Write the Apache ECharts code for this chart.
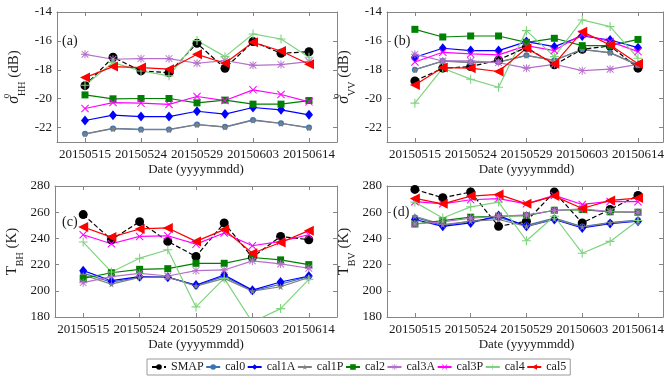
<!DOCTYPE html>
<html>
<head>
<meta charset="utf-8">
<script src="https://cdn.jsdelivr.net/npm/echarts@6/dist/echarts.min.js"></script>
<style>
  html, body { margin: 0; padding: 0; background: #fff; }
  #chart { width: 667px; height: 380px; }
</style>
</head>
<body>
<div id="chart"></div>
<script>
// Observation dates shown on the x axis (every other acquisition)
const tickDates = ['20150515', '20150524', '20150529', '20150603', '20150614'];
const tickPos = [1, 3, 5, 7, 9];
// Acquisition index along the x axis
const obsIndex = [1, 2, 3, 4, 5, 6, 7, 8, 9];

const seriesNames = ['SMAP', 'cal0', 'cal1A', 'cal1P', 'cal2', 'cal3A', 'cal3P', 'cal4', 'cal5'];

// (a) HH backscatter, dB — one row per series, same order as seriesNames
const sigmaHH = [
  [-19.1, -17.13, -18.08, -18.2, -16.17, -17.9, -16.05, -16.86, -16.75],
  [-22.43, -22.06, -22.13, -22.13, -21.79, -21.95, -21.47, -21.7, -22.0],
  [-21.51, -21.14, -21.24, -21.24, -20.87, -21.07, -20.61, -20.77, -21.12],
  [-22.45, -22.08, -22.15, -22.15, -21.8, -21.97, -21.5, -21.72, -22.02],
  [-19.74, -20.01, -19.99, -19.99, -20.29, -20.1, -20.38, -20.38, -20.13],
  [-16.93, -17.27, -17.23, -17.23, -17.55, -17.36, -17.69, -17.64, -17.43],
  [-20.68, -20.27, -20.31, -20.4, -19.85, -20.13, -19.39, -19.71, -20.22],
  [-19.07, -17.5, -18.08, -18.42, -15.98, -17.09, -15.52, -15.87, -17.13],
  [-18.54, -17.78, -17.85, -17.96, -16.93, -17.55, -16.1, -16.7, -17.62]
];

// (b) VV backscatter, dB
const sigmaVV = [
  [-18.77, -17.89, -17.78, -17.32, -16.44, -17.66, -16.58, -16.35, -17.89],
  [-17.99, -17.39, -17.48, -17.46, -17.0, -17.34, -16.58, -16.81, -17.66],
  [-17.13, -16.51, -16.67, -16.67, -16.05, -16.4, -15.66, -15.94, -16.47],
  [-18.0, -17.4, -17.5, -17.47, -17.02, -17.36, -16.6, -16.83, -17.68],
  [-15.2, -15.73, -15.66, -15.66, -16.1, -15.82, -16.33, -16.33, -15.9],
  [-16.93, -17.39, -17.39, -17.5, -17.89, -17.62, -18.06, -17.96, -17.62],
  [-17.46, -16.79, -16.9, -16.97, -16.33, -16.67, -15.54, -16.05, -16.74],
  [-20.31, -17.89, -18.65, -19.21, -15.29, -17.09, -14.55, -15.01, -17.2],
  [-19.05, -17.85, -17.89, -18.12, -16.51, -17.59, -15.36, -16.28, -17.59]
];

// (c) H-pol brightness temperature, K
const tbH = [
  [258.2, 239, 252.8, 237.7, 226.2, 251.8, 225.6, 241.5, 239],
  [213.5, 206.5, 210.5, 210.5, 204, 211, 200, 205, 211],
  [215.4, 207.7, 210.8, 210.3, 204.4, 212.1, 200.5, 206.7, 211.3],
  [212.1, 205.1, 210.3, 210.5, 203.6, 209.5, 199.7, 203.1, 210.3],
  [209.5, 213.8, 216.4, 216.9, 221, 221, 225.4, 223.6, 220],
  [206.2, 210.8, 213.3, 211.3, 215.4, 215.9, 222.8, 220.5, 217.2],
  [242.8, 235.9, 241.5, 242, 235.6, 244.1, 234.4, 237.7, 242.8],
  [237.2, 214.4, 224.9, 231.3, 187.7, 209.5, 176, 186.4, 208.7],
  [248.7, 241, 247.2, 248, 237.7, 246.7, 228.7, 236.9, 245.9]
];

// (d) V-pol brightness temperature, K
const tbV = [
  [277.4, 271, 275.4, 249.2, 253.1, 275.4, 251.8, 262.1, 272.8],
  [256, 250, 253, 256, 250, 255.5, 249, 252, 254],
  [254.4, 249.2, 251.8, 257.4, 249.2, 254.4, 248, 251.3, 253.1],
  [256.9, 250.5, 253.1, 254.4, 249.2, 254.9, 248.7, 251.8, 253.6],
  [251, 253.6, 256.2, 256.9, 257.4, 261.5, 262, 260.3, 260],
  [251, 252.6, 255.4, 256.9, 257.9, 261.3, 262.6, 260.5, 260],
  [268, 266.4, 269.5, 270.3, 266.4, 272.8, 265.9, 268.2, 268],
  [267.7, 255.6, 264.1, 267.7, 238.2, 256.9, 228.7, 237.7, 253.6],
  [270.5, 266.4, 272.3, 273.6, 266.4, 272.3, 262.8, 269, 270.8]
];

const dbTicks = [-22, -20, -18, -16, -14];
const kTicks = [180, 200, 220, 240, 260, 280];
const xTitle = 'Date (yyyymmdd)';

const FONT = 'Liberation Serif';
const AXIS_COLOR = '#858585';
const TEXT_COLOR = '#1a1a1a';

// Marker shapes
const PLUS = 'path://M4.4,0H5.6V10H4.4ZM0,4.4H10V5.6H0Z';
const ASTER = 'path://M4.4,0H5.6V10H4.4ZM0,4.4H10V5.6H0ZM1.2,0.4L9.6,8.8L8.8,9.6L0.4,1.2ZM8.8,0.4L9.6,1.2L1.2,9.6L0.4,8.8Z';
const CROSS = 'path://M1.2,0.4L9.6,8.8L8.8,9.6L0.4,1.2ZM8.8,0.4L9.6,1.2L1.2,9.6L0.4,8.8Z';
const STAR = 'path://M5,0L6.2,3.6L10,3.6L6.9,5.8L8.1,9.5L5,7.2L1.9,9.5L3.1,5.8L0,3.6L3.8,3.6Z';

const styles = {
  SMAP:  { color: '#000000', symbol: 'circle',   size: 9,  dash: 'dashed' },
  cal0:  { color: '#3b73b6', symbol: 'circle',   size: 6 },
  cal1A: { color: '#0000ff', symbol: 'diamond',  size: [8, 10] },
  cal1P: { color: '#808080', symbol: STAR,       size: 7 },
  cal2:  { color: '#008000', symbol: 'rect',     size: 7 },
  cal3A: { color: '#b56fca', symbol: ASTER,      size: 8 },
  cal3P: { color: '#ff00ff', symbol: CROSS,      size: 8 },
  cal4:  { color: '#7fd37f', symbol: PLUS,       size: 9 },
  cal5:  { color: '#ff0000', symbol: 'triangle', size: 10, rotate: 90 }
};

const panels = [
  { data: sigmaHH, left: 55,  top: 12,  width: 282, height: 130, xMax: 10,  yMin: -23, yMax: -14, yTicks: dbTicks, yName: '{s|σ}{o|o}{h|HH}{n| (dB)}', tag: '(a)', tagX: 62,  tagY: 42 },
  { data: sigmaVV, left: 387, top: 12,  width: 279, height: 130, xMax: 9.9, yMin: -23, yMax: -14, yTicks: dbTicks, yName: '{s|σ}{o|o}{h|VV}{n| (dB)}', tag: '(b)', tagX: 394, tagY: 42 },
  { data: tbH,     left: 55,  top: 186, width: 282, height: 131, xMax: 10,  yMin: 180, yMax: 280, yTicks: kTicks,  yName: '{t|T}{h|BH}{n| (K)}',       tag: '(c)', tagX: 62,  tagY: 223 },
  { data: tbV,     left: 387, top: 186, width: 279, height: 131, xMax: 9.9, yMin: 180, yMax: 280, yTicks: kTicks,  yName: '{t|T}{h|BV}{n| (K)}',       tag: '(d)', tagX: 393, tagY: 213 }
];

const nameRich = {
  s: { fontFamily: FONT, fontSize: 16, fontStyle: 'italic', color: TEXT_COLOR, lineHeight: 26, verticalAlign: 'middle' },
  t: { fontFamily: FONT, fontSize: 15, color: TEXT_COLOR, lineHeight: 26, verticalAlign: 'middle' },
  o: { fontFamily: FONT, fontSize: 10, color: TEXT_COLOR, width: 0, verticalAlign: 'top', lineHeight: 12 },
  h: { fontFamily: FONT, fontSize: 10, color: TEXT_COLOR, verticalAlign: 'bottom', lineHeight: 18 },
  n: { fontFamily: FONT, fontSize: 15, color: TEXT_COLOR, lineHeight: 26, verticalAlign: 'middle' }
};

const grid = [], xAxis = [], yAxis = [], series = [], graphic = [];

panels.forEach((p, gi) => {
  grid.push({ left: p.left, top: p.top, width: p.width, height: p.height });
  const lineStyle = { color: AXIS_COLOR, width: 1 };
  // bottom x axis with date labels
  xAxis.push({
    type: 'value', gridIndex: gi, min: 0, max: p.xMax, position: 'bottom',
    axisLine: { show: true, onZero: false, lineStyle },
    axisTick: { show: true, inside: true, length: 4, customValues: tickPos, lineStyle },
    axisLabel: {
      customValues: tickPos, margin: 6,
      formatter: v => tickDates[tickPos.indexOf(v)],
      fontFamily: FONT, fontSize: 13, color: TEXT_COLOR
    },
    splitLine: { show: false }
  });
  // top frame edge
  xAxis.push({
    type: 'value', gridIndex: gi, min: 0, max: p.xMax, position: 'top',
    axisLine: { show: true, onZero: false, lineStyle },
    axisTick: { show: true, inside: true, length: 4, customValues: tickPos, lineStyle },
    axisLabel: { show: false }, splitLine: { show: false }
  });
  // left y axis
  yAxis.push({
    type: 'value', gridIndex: gi, min: p.yMin, max: p.yMax, position: 'left',
    axisLine: { show: true, onZero: false, lineStyle },
    axisTick: { show: true, inside: true, length: 4, customValues: p.yTicks, lineStyle },
    axisLabel: { customValues: p.yTicks, margin: 5, fontFamily: FONT, fontSize: 13, color: TEXT_COLOR },
    splitLine: { show: false },
    name: p.yName, nameLocation: 'middle', nameGap: 30, nameRotate: 90,
    nameTextStyle: { rich: nameRich }
  });
  // right frame edge
  yAxis.push({
    type: 'value', gridIndex: gi, min: p.yMin, max: p.yMax, position: 'right',
    axisLine: { show: true, onZero: false, lineStyle },
    axisTick: { show: true, inside: true, length: 4, customValues: p.yTicks, lineStyle },
    axisLabel: { show: false }, splitLine: { show: false }
  });

  seriesNames.forEach((name, si) => {
    const st = styles[name];
    series.push({
      name, type: 'line', xAxisIndex: gi * 2, yAxisIndex: gi * 2,
      data: obsIndex.map((x, k) => [x, p.data[si][k]]),
      symbol: st.symbol, symbolSize: st.size, symbolRotate: st.rotate || 0,
      showAllSymbol: true, clip: true, animation: false,
      lineStyle: { color: st.color, width: 1.2, type: st.dash || 'solid' },
      itemStyle: { color: st.color, borderWidth: 0 },
      emphasis: { disabled: true }
    });
  });

  // panel tag
  graphic.push({
    type: 'text', left: p.tagX, top: p.tagY - 8,
    style: { text: p.tag, fontFamily: FONT, fontSize: 14, fill: TEXT_COLOR }
  });
  // x axis title under each panel
  graphic.push({
    type: 'text', x: p.left + p.width / 2, y: p.top + p.height + 21,
    style: { text: xTitle, fontFamily: FONT, fontSize: 13, fill: TEXT_COLOR, align: 'center', verticalAlign: 'top' }
  });
});

const chart = echarts.init(document.getElementById('chart'), null, { renderer: 'canvas' });
chart.setOption({
  backgroundColor: '#ffffff',
  animation: false,
  grid, xAxis, yAxis, series, graphic,
  legend: {
    data: seriesNames,
    left: 147, top: 359,
    width: 440,
    orient: 'horizontal',
    itemWidth: 14, itemHeight: 7, itemGap: 1.5,
    padding: [2, 4],
    borderColor: '#9a9a9a', borderWidth: 1, backgroundColor: '#ffffff',
    textStyle: { fontFamily: FONT, fontSize: 12, color: TEXT_COLOR }
  }
});
</script>
</body>
</html>
